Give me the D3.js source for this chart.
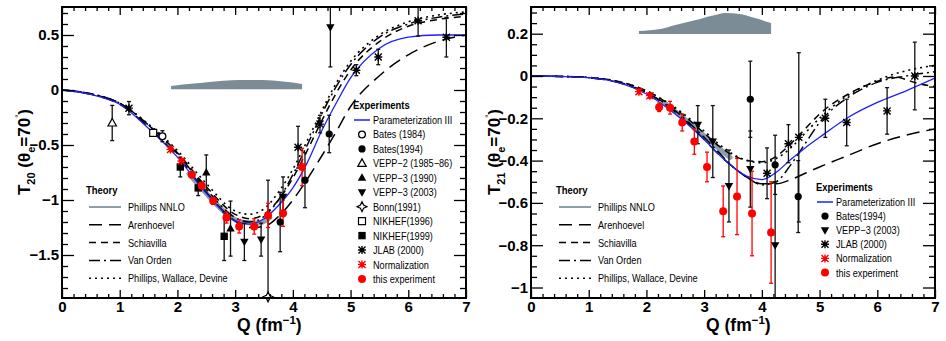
<!DOCTYPE html>
<html><head><meta charset="utf-8">
<script src="https://cdn.jsdelivr.net/npm/d3@7"></script>
<style>body{margin:0;background:#fff} text{font-family:"Liberation Sans",Arial,Helvetica,sans-serif}</style>
</head><body><svg id="c" width="946" height="341"></svg>
<script>
// ---------------- DATA ----------------
const xTicks = [0,1,2,3,4,5,6,7];
const t20Ticks = [-1.5,-1,-0.5,0,0.5];
const t21Ticks = [-1,-0.8,-0.6,-0.4,-0.2,0,0.2];

const qGrid = [0,0.5,1,1.5,2,2.5,3,3.25,3.5,3.75,4,4.25,4.5,4.75,5,5.5,6,6.5,7];
// T20 theory
const t20Param = [0,-0.04,-0.13,-0.35,-0.61,-0.94,-1.19,-1.22,-1.17,-1.05,-0.89,-0.66,-0.37,-0.12,0.11,0.38,0.48,0.5,0.5];
const t20Aren  = [0,-0.04,-0.13,-0.34,-0.6,-0.93,-1.19,-1.25,-1.24,-1.15,-1.0,-0.81,-0.6,-0.38,-0.15,0.13,0.32,0.44,0.5];
const t20Schi  = [0,-0.035,-0.12,-0.32,-0.57,-0.88,-1.13,-1.17,-1.13,-1.0,-0.8,-0.55,-0.28,-0.03,0.18,0.44,0.58,0.64,0.67];
const t20VanO  = [0,-0.035,-0.12,-0.32,-0.58,-0.9,-1.16,-1.2,-1.15,-1.0,-0.77,-0.5,-0.22,0.03,0.23,0.48,0.6,0.66,0.69];
const t20PWD   = [0,-0.035,-0.12,-0.31,-0.55,-0.85,-1.1,-1.13,-1.08,-0.93,-0.72,-0.46,-0.19,0.06,0.26,0.5,0.62,0.68,0.71];
const t20NnloQ = [2.2,2.5,2.8,3.1,3.4,3.6];
const t20Nnlo  = [-0.76,-0.94,-1.1,-1.2,-1.21,-1.16];
// T21 theory
const t21Param = [0,-0.002,-0.008,-0.03,-0.085,-0.18,-0.3,-0.37,-0.43,-0.475,-0.49,-0.455,-0.395,-0.34,-0.29,-0.195,-0.125,-0.07,-0.01];
const t21Aren  = [0,-0.002,-0.008,-0.03,-0.08,-0.17,-0.3,-0.37,-0.43,-0.48,-0.51,-0.51,-0.49,-0.46,-0.43,-0.375,-0.32,-0.28,-0.25];
const t21VanO  = [0,-0.002,-0.008,-0.028,-0.078,-0.165,-0.29,-0.36,-0.43,-0.48,-0.515,-0.5,-0.42,-0.32,-0.22,-0.1,-0.03,0.0,0.02];
const t21PWD   = [0,-0.002,-0.007,-0.025,-0.07,-0.15,-0.26,-0.32,-0.37,-0.4,-0.41,-0.39,-0.34,-0.27,-0.2,-0.09,-0.02,0.025,0.05];
const t21SchiQ = [0,0.5,1,1.5,2,2.5,3,3.25,3.5,3.75,4,4.25,4.5,4.75,5,5.5,6,6.3,6.7,7];
const t21Schi  = [0,-0.002,-0.007,-0.025,-0.07,-0.155,-0.27,-0.33,-0.375,-0.4,-0.405,-0.38,-0.32,-0.25,-0.18,-0.085,-0.025,-0.005,-0.035,-0.05];
const t21NnloQ = [2.3,2.6,2.9,3.2,3.45];
const t21Nnlo  = [-0.125,-0.19,-0.26,-0.33,-0.385];

// systematic bands [Q], top, bottom
const bandQ20 = [1.89,2.1,2.39,2.8,3.08,3.48,3.83,4.16];
const bandHi20 = [0.036,0.05,0.064,0.085,0.091,0.09,0.077,0.055];
const bandLo20 = [0.006,0.006,0.006,0.006,0.006,0.006,0.006,0.006];
const bandQ21 = [1.87,2.24,2.5,2.93,3.19,3.36,3.62,3.88,4.16];
const bandHi21 = [0.213,0.222,0.241,0.27,0.288,0.298,0.293,0.274,0.25];
const bandLo21 = [0.199,0.199,0.199,0.199,0.199,0.199,0.199,0.199,0.199];

// T20 experiments: [Q, value, error]
const bates84_20 = [[1.74,-0.42,0.05]];
const bates94_20 = [[3.78,-1.2,0.27],[4.21,-0.82,0.25],[4.63,-0.4,0.17]];
const vepp2_20   = [[0.87,-0.3,0.16]];
const vepp90_20  = [[2.5,-0.75,0.16],[2.92,-1.26,0.25]];
const vepp03_20  = [[3.16,-1.38,0.17],[3.45,-1.36,0.15],[3.83,-0.97,0.18],[4.65,0.57,0.36]];
const bonn_20    = [[3.57,-1.88,1.06]];
const nik96_20   = [[1.58,-0.39,0.03]];
const nik99_20   = [[2.05,-0.70,0.09],[2.36,-0.89,0.07],[2.81,-1.33,0.22]];
const jlab_20    = [[1.16,-0.165,0.06],[4.09,-0.52,0.19],[4.47,-0.31,0.08],[5.1,0.18,0.05],[5.48,0.3,0.07],[6.17,0.63,0.14],[6.66,0.48,0.18]];
const norm_20    = [[1.88,-0.54,0.02],[2.07,-0.645,0.02]];
const thisExp_20 = [[2.25,-0.77,0.02],[2.42,-0.87,0.03],[2.62,-1.01,0.03],[2.85,-1.16,0.05],[3.07,-1.24,0.06],[3.33,-1.24,0.07],[3.57,-1.14,0.11],[3.83,-1.12,0.12],[4.16,-0.7,0.17]];

// T21 experiments
const bates94_21 = [[3.8,-0.11,0.18],[4.23,-0.42,0.14],[4.63,-0.57,0.17]];
const vepp03_21  = [[2.89,-0.23,0.09],[3.15,-0.31,0.17],[3.43,-0.52,0.17],[3.8,-0.44,0.18],[4.23,-0.8,0.3]];
const jlab_21    = [[4.09,-0.46,0.12],[4.46,-0.32,0.09],[4.64,-0.29,0.4],[5.1,-0.2,0.09],[5.47,-0.22,0.11],[6.17,-0.165,0.11],[6.65,0.0,0.16]];
const norm_21    = [[1.87,-0.074,0.01],[2.06,-0.093,0.012]];
const thisExp_21 = [[2.22,-0.148,0.02],[2.41,-0.15,0.03],[2.62,-0.22,0.04],[2.83,-0.31,0.06],[3.05,-0.43,0.07],[3.33,-0.64,0.12],[3.57,-0.57,0.18],[3.83,-0.65,0.2],[4.16,-0.74,0.24]];

// ---------------- DRAWING ----------------
const svg = d3.select("#c");
const BLUE = "#1f1fff", RED = "#ff0000", BAND = "#7b8c96", NNLO = "#8d9ea8";

const theoryStyles = {
  nnlo: {dash:null, color:NNLO, w:2},
  aren: {dash:"13,7", color:"#000", w:1.5},
  schi: {dash:"7,5", color:"#000", w:1.5},
  vano: {dash:"11,4,2,4", color:"#000", w:1.5},
  pwd:  {dash:"2,4", color:"#000", w:1.6}
};

function squeeze(sel, f) {
  sel.each(function() {
    const w = this.getComputedTextLength();
    d3.select(this).attr("textLength", w * f).attr("lengthAdjust", "spacingAndGlyphs");
  });
}

function drawMarker(g, type, cx, cy) {
  const s = g.append("g").attr("transform", `translate(${cx},${cy})`);
  const tri = "M0,-4.5L4.2,3L-4.2,3Z";
  switch (type) {
    case "ocircle": s.append("circle").attr("r",3.4).attr("fill","#fff").attr("stroke","#000").attr("stroke-width",1.3); break;
    case "fcircle": s.append("circle").attr("r",3.6).attr("fill","#000"); break;
    case "otri": s.append("path").attr("d",tri).attr("fill","#fff").attr("stroke","#000").attr("stroke-width",1.2); break;
    case "ftri": s.append("path").attr("d",tri).attr("fill","#000"); break;
    case "dtri": s.append("path").attr("d",tri).attr("transform","rotate(180)").attr("fill","#000"); break;
    case "ostar": s.append("path").attr("d","M0,-5L1.6,-1.6L5,0L1.6,1.6L0,5L-1.6,1.6L-5,0L-1.6,-1.6Z").attr("fill","#fff").attr("stroke","#000").attr("stroke-width",1.2); break;
    case "osq": s.append("rect").attr("x",-3.5).attr("y",-3.5).attr("width",7).attr("height",7).attr("fill","#fff").attr("stroke","#000").attr("stroke-width",1.2); break;
    case "fsq": s.append("rect").attr("x",-3.7).attr("y",-3.7).attr("width",7.4).attr("height",7.4).attr("fill","#000"); break;
    case "jlab": case "norm": {
      const c = type==="jlab" ? "#000" : RED;
      s.append("path").attr("d","M-3.5,-3.5L3.5,3.5M-3.5,3.5L3.5,-3.5M0,-4L0,4M-4,0L4,0").attr("stroke",c).attr("stroke-width",1.4);
      s.append("rect").attr("x",-1.5).attr("y",-1.5).attr("width",3).attr("height",3).attr("fill",c);
      break; }
    case "rcircle": s.append("circle").attr("r",4).attr("fill",RED); break;
  }
}

function drawPanel(p) {
  const x = d3.scaleLinear().domain([0,7]).range([p.x0,p.x1]);
  const y = d3.scaleLinear().domain(p.yDom).range([p.y1,p.y0]);
  const g = svg.append("g");
  const clipId = "clip" + p.id;
  svg.append("defs").append("clipPath").attr("id",clipId).append("rect")
    .attr("x",p.x0).attr("y",p.y0).attr("width",p.x1-p.x0).attr("height",p.y1-p.y0);
  const gc = g.append("g").attr("clip-path",`url(#${clipId})`);

  // band
  gc.append("path").datum(d3.range(p.band.q.length))
    .attr("d", d3.area().x(i=>x(p.band.q[i])).y0(i=>y(p.band.lo[i])).y1(i=>y(p.band.hi[i])).curve(d3.curveMonotoneX))
    .attr("fill",BAND);

  // theory curves
  const line = (qs,vs) => d3.line().x(i=>x(qs[i])).y(i=>y(vs[i])).curve(d3.curveMonotoneX)(d3.range(qs.length));
  gc.append("path").attr("d",line(p.nnlo.q,p.nnlo.v)).attr("fill","none").attr("stroke",NNLO).attr("stroke-width",5).attr("stroke-linecap","round");
  p.theory.forEach(t => {
    const st = theoryStyles[t.key];
    gc.append("path").attr("d",line(t.q,t.v)).attr("fill","none").attr("stroke",st.color)
      .attr("stroke-width",st.w).attr("stroke-dasharray",st.dash);
  });
  gc.append("path").attr("d",line(qGrid,p.param)).attr("fill","none").attr("stroke",BLUE).attr("stroke-width",1.3);

  // data
  p.exps.forEach(e => {
    const col = (e.type==="rcircle"||e.type==="norm") ? RED : "#111";
    e.data.forEach(d => {
      const lo = d[2], hi = d[2];
      const X = x(d[0]);
      gc.append("line").attr("x1",X).attr("x2",X).attr("y1",y(d[1]-lo)).attr("y2",y(d[1]+hi))
        .attr("stroke",col).attr("stroke-width",1.3);
      [d[1]-lo, d[1]+hi].forEach(v => gc.append("line").attr("x1",X-2).attr("x2",X+2).attr("y1",y(v)).attr("y2",y(v)).attr("stroke",col).attr("stroke-width",1.3));
    });
  });
  p.exps.forEach(e => e.data.forEach(d => drawMarker(g, e.type, x(d[0]), Math.min(y(d[1]), p.y1))));

  // axes
  const ax = g.append("g").attr("class","axes");
  const fmt = v => (v<0 ? "\u2212" : "") + d3.format("~g")(Math.abs(v));
  const style = sel => { sel.select(".domain").remove(); sel.selectAll(".tick line").attr("stroke","#000").attr("stroke-width",1.3); };
  const xMinor = d3.range(0,71,2).map(v=>v/10).filter(v=>!xTicks.includes(v) && v<=7);
  const yMinor = d3.range(Math.ceil(p.yDom[0]/p.minor-1e-6), Math.floor(p.yDom[1]/p.minor+1e-6)+1)
      .map(k=>+(k*p.minor).toFixed(4)).filter(v=>!p.yTicks.some(t=>Math.abs(t-v)<1e-6));
  // bottom
  ax.append("g").attr("transform",`translate(0,${p.y1})`)
    .call(d3.axisBottom(x).tickValues(xTicks).tickSize(-8).tickPadding(3).tickFormat(d3.format("d"))).call(style)
    .selectAll("text").attr("font-size",15).attr("font-weight","bold").attr("fill","#000");
  ax.append("g").attr("transform",`translate(0,${p.y1})`)
    .call(d3.axisBottom(x).tickValues(xMinor).tickSize(-4).tickFormat("")).call(style);
  // top
  ax.append("g").attr("transform",`translate(0,${p.y0})`)
    .call(d3.axisTop(x).tickValues(xTicks).tickSize(-8).tickFormat("")).call(style);
  ax.append("g").attr("transform",`translate(0,${p.y0})`)
    .call(d3.axisTop(x).tickValues(xMinor).tickSize(-4).tickFormat("")).call(style);
  // left
  ax.append("g").attr("transform",`translate(${p.x0},0)`)
    .call(d3.axisLeft(y).tickValues(p.yTicks).tickSize(-12).tickPadding(3).tickFormat(fmt)).call(style)
    .selectAll("text").attr("font-size",15).attr("font-weight","bold").attr("fill","#000");
  ax.append("g").attr("transform",`translate(${p.x0},0)`)
    .call(d3.axisLeft(y).tickValues(yMinor).tickSize(-6).tickFormat("")).call(style);
  // right
  ax.append("g").attr("transform",`translate(${p.x1},0)`)
    .call(d3.axisRight(y).tickValues(p.yTicks).tickSize(-12).tickFormat("")).call(style);
  ax.append("g").attr("transform",`translate(${p.x1},0)`)
    .call(d3.axisRight(y).tickValues(yMinor).tickSize(-6).tickFormat("")).call(style);
  // frame
  g.append("rect").attr("x",p.x0).attr("y",p.y0).attr("width",p.x1-p.x0).attr("height",p.y1-p.y0)
    .attr("fill","none").attr("stroke","#000").attr("stroke-width",2);

  // x title
  const xt = g.append("text").attr("x",p.xTitleX).attr("y",331).attr("font-size",17.5).attr("font-weight","bold");
  xt.append("tspan").text("Q (fm");
  xt.append("tspan").attr("dy",-7).attr("font-size",11.5).text("\u22121");
  xt.append("tspan").attr("dy",7).text(")");
  // y title
  const yt = g.append("text").attr("transform",`translate(${p.yTitleX},152) rotate(-90)`)
    .attr("text-anchor","middle").attr("font-size",17).attr("font-weight","bold");
  yt.append("tspan").text("T");
  yt.append("tspan").attr("dy",5).attr("font-size",11).text(p.sub);
  yt.append("tspan").attr("dy",-5).text(" (\u03b8");
  yt.append("tspan").attr("dy",5).attr("font-size",11).text("e");
  yt.append("tspan").attr("dy",-5).text("=70");
  yt.append("tspan").attr("dy",-9).attr("font-size",8).attr("font-weight","normal").text("\u00b0");
  yt.append("tspan").attr("dy",9).text(")");

  // theory legend
  const tl = g.append("g");
  tl.append("text").attr("x",p.tLeg.x).attr("y",p.tLeg.y+4).attr("font-size",10.5).attr("font-weight","bold").text("Theory").call(squeeze,0.9);
  const tEntries = [["nnlo","Phillips NNLO"],["aren","Arenhoevel"],["schi","Schiavilla"],["vano","Van Orden"],["pwd","Phillips, Wallace, Devine"]];
  tEntries.forEach((e,i) => {
    const yy = p.tLeg.y + 17 + i*17.8;
    const st = theoryStyles[e[0]];
    tl.append("line").attr("x1",p.tLeg.x+3).attr("x2",p.tLeg.x+35).attr("y1",yy).attr("y2",yy)
      .attr("stroke",st.color).attr("stroke-width",e[0]==="nnlo"?2:1.5).attr("stroke-dasharray",st.dash);
    tl.append("text").attr("x",p.tLeg.x+42).attr("y",yy+4).attr("font-size",10.5).text(e[1]).call(squeeze,0.87);
  });
  // experiments legend
  const el = g.append("g");
  el.append("text").attr("x",p.eLeg.x).attr("y",p.eLeg.y+4).attr("font-size",10.5).attr("font-weight","bold").text("Experiments").call(squeeze,0.9);
  const ey0 = p.eLeg.y + 15;
  el.append("line").attr("x1",p.eLeg.x+1).attr("x2",p.eLeg.x+17).attr("y1",ey0).attr("y2",ey0).attr("stroke",BLUE).attr("stroke-width",1.5);
  el.append("text").attr("x",p.eLeg.x+20).attr("y",ey0+4).attr("font-size",10.5).text("Parameterization III").call(squeeze,0.87);
  p.exps.forEach((e,i) => {
    const yy = ey0 + (i+1)*p.eLeg.dy;
    drawMarker(el, e.type, p.eLeg.x+9, yy);
    el.append("text").attr("x",p.eLeg.x+20).attr("y",yy+4).attr("font-size",10.5).text(e.name).call(squeeze,0.87);
  });
}

drawPanel({
  id:"L", x0:62, x1:466, y0:7, y1:298, yDom:[-1.8909,0.7545], yTicks:t20Ticks, minor:0.1,
  sub:"20", yTitleX:30, xTitleX:237,
  band:{q:bandQ20, hi:bandHi20, lo:bandLo20},
  nnlo:{q:t20NnloQ, v:t20Nnlo},
  param:t20Param,
  theory:[{key:"aren",q:qGrid,v:t20Aren},{key:"schi",q:qGrid,v:t20Schi},{key:"vano",q:qGrid,v:t20VanO},{key:"pwd",q:qGrid,v:t20PWD}],
  exps:[
    {name:"Bates (1984)", type:"ocircle", data:bates84_20},
    {name:"Bates(1994)", type:"fcircle", data:bates94_20},
    {name:"VEPP\u22122 (1985\u221286)", type:"otri", data:vepp2_20},
    {name:"VEPP\u22123 (1990)", type:"ftri", data:vepp90_20},
    {name:"VEPP\u22123 (2003)", type:"dtri", data:vepp03_20},
    {name:"Bonn(1991)", type:"ostar", data:bonn_20},
    {name:"NIKHEF(1996)", type:"osq", data:nik96_20},
    {name:"NIKHEF(1999)", type:"fsq", data:nik99_20},
    {name:"JLAB (2000)", type:"jlab", data:jlab_20},
    {name:"Normalization", type:"norm", data:norm_20},
    {name:"this experiment", type:"rcircle", data:thisExp_20}
  ],
  tLeg:{x:86, y:190}, eLeg:{x:353, y:105, dy:14.45}
});

drawPanel({
  id:"R", x0:531, x1:935, y0:7, y1:298, yDom:[-1.0496,0.3262], yTicks:t21Ticks, minor:0.05,
  sub:"21", yTitleX:500, xTitleX:706,
  band:{q:bandQ21, hi:bandHi21, lo:bandLo21},
  nnlo:{q:t21NnloQ, v:t21Nnlo},
  param:t21Param,
  theory:[{key:"aren",q:qGrid,v:t21Aren},{key:"schi",q:t21SchiQ,v:t21Schi},{key:"vano",q:qGrid,v:t21VanO},{key:"pwd",q:qGrid,v:t21PWD}],
  exps:[
    {name:"Bates(1994)", type:"fcircle", data:bates94_21},
    {name:"VEPP\u22123 (2003)", type:"dtri", data:vepp03_21},
    {name:"JLAB (2000)", type:"jlab", data:jlab_21},
    {name:"Normalization", type:"norm", data:norm_21},
    {name:"this experiment", type:"rcircle", data:thisExp_21}
  ],
  tLeg:{x:556, y:190}, eLeg:{x:816, y:187, dy:14.1}
});
</script></body></html>
